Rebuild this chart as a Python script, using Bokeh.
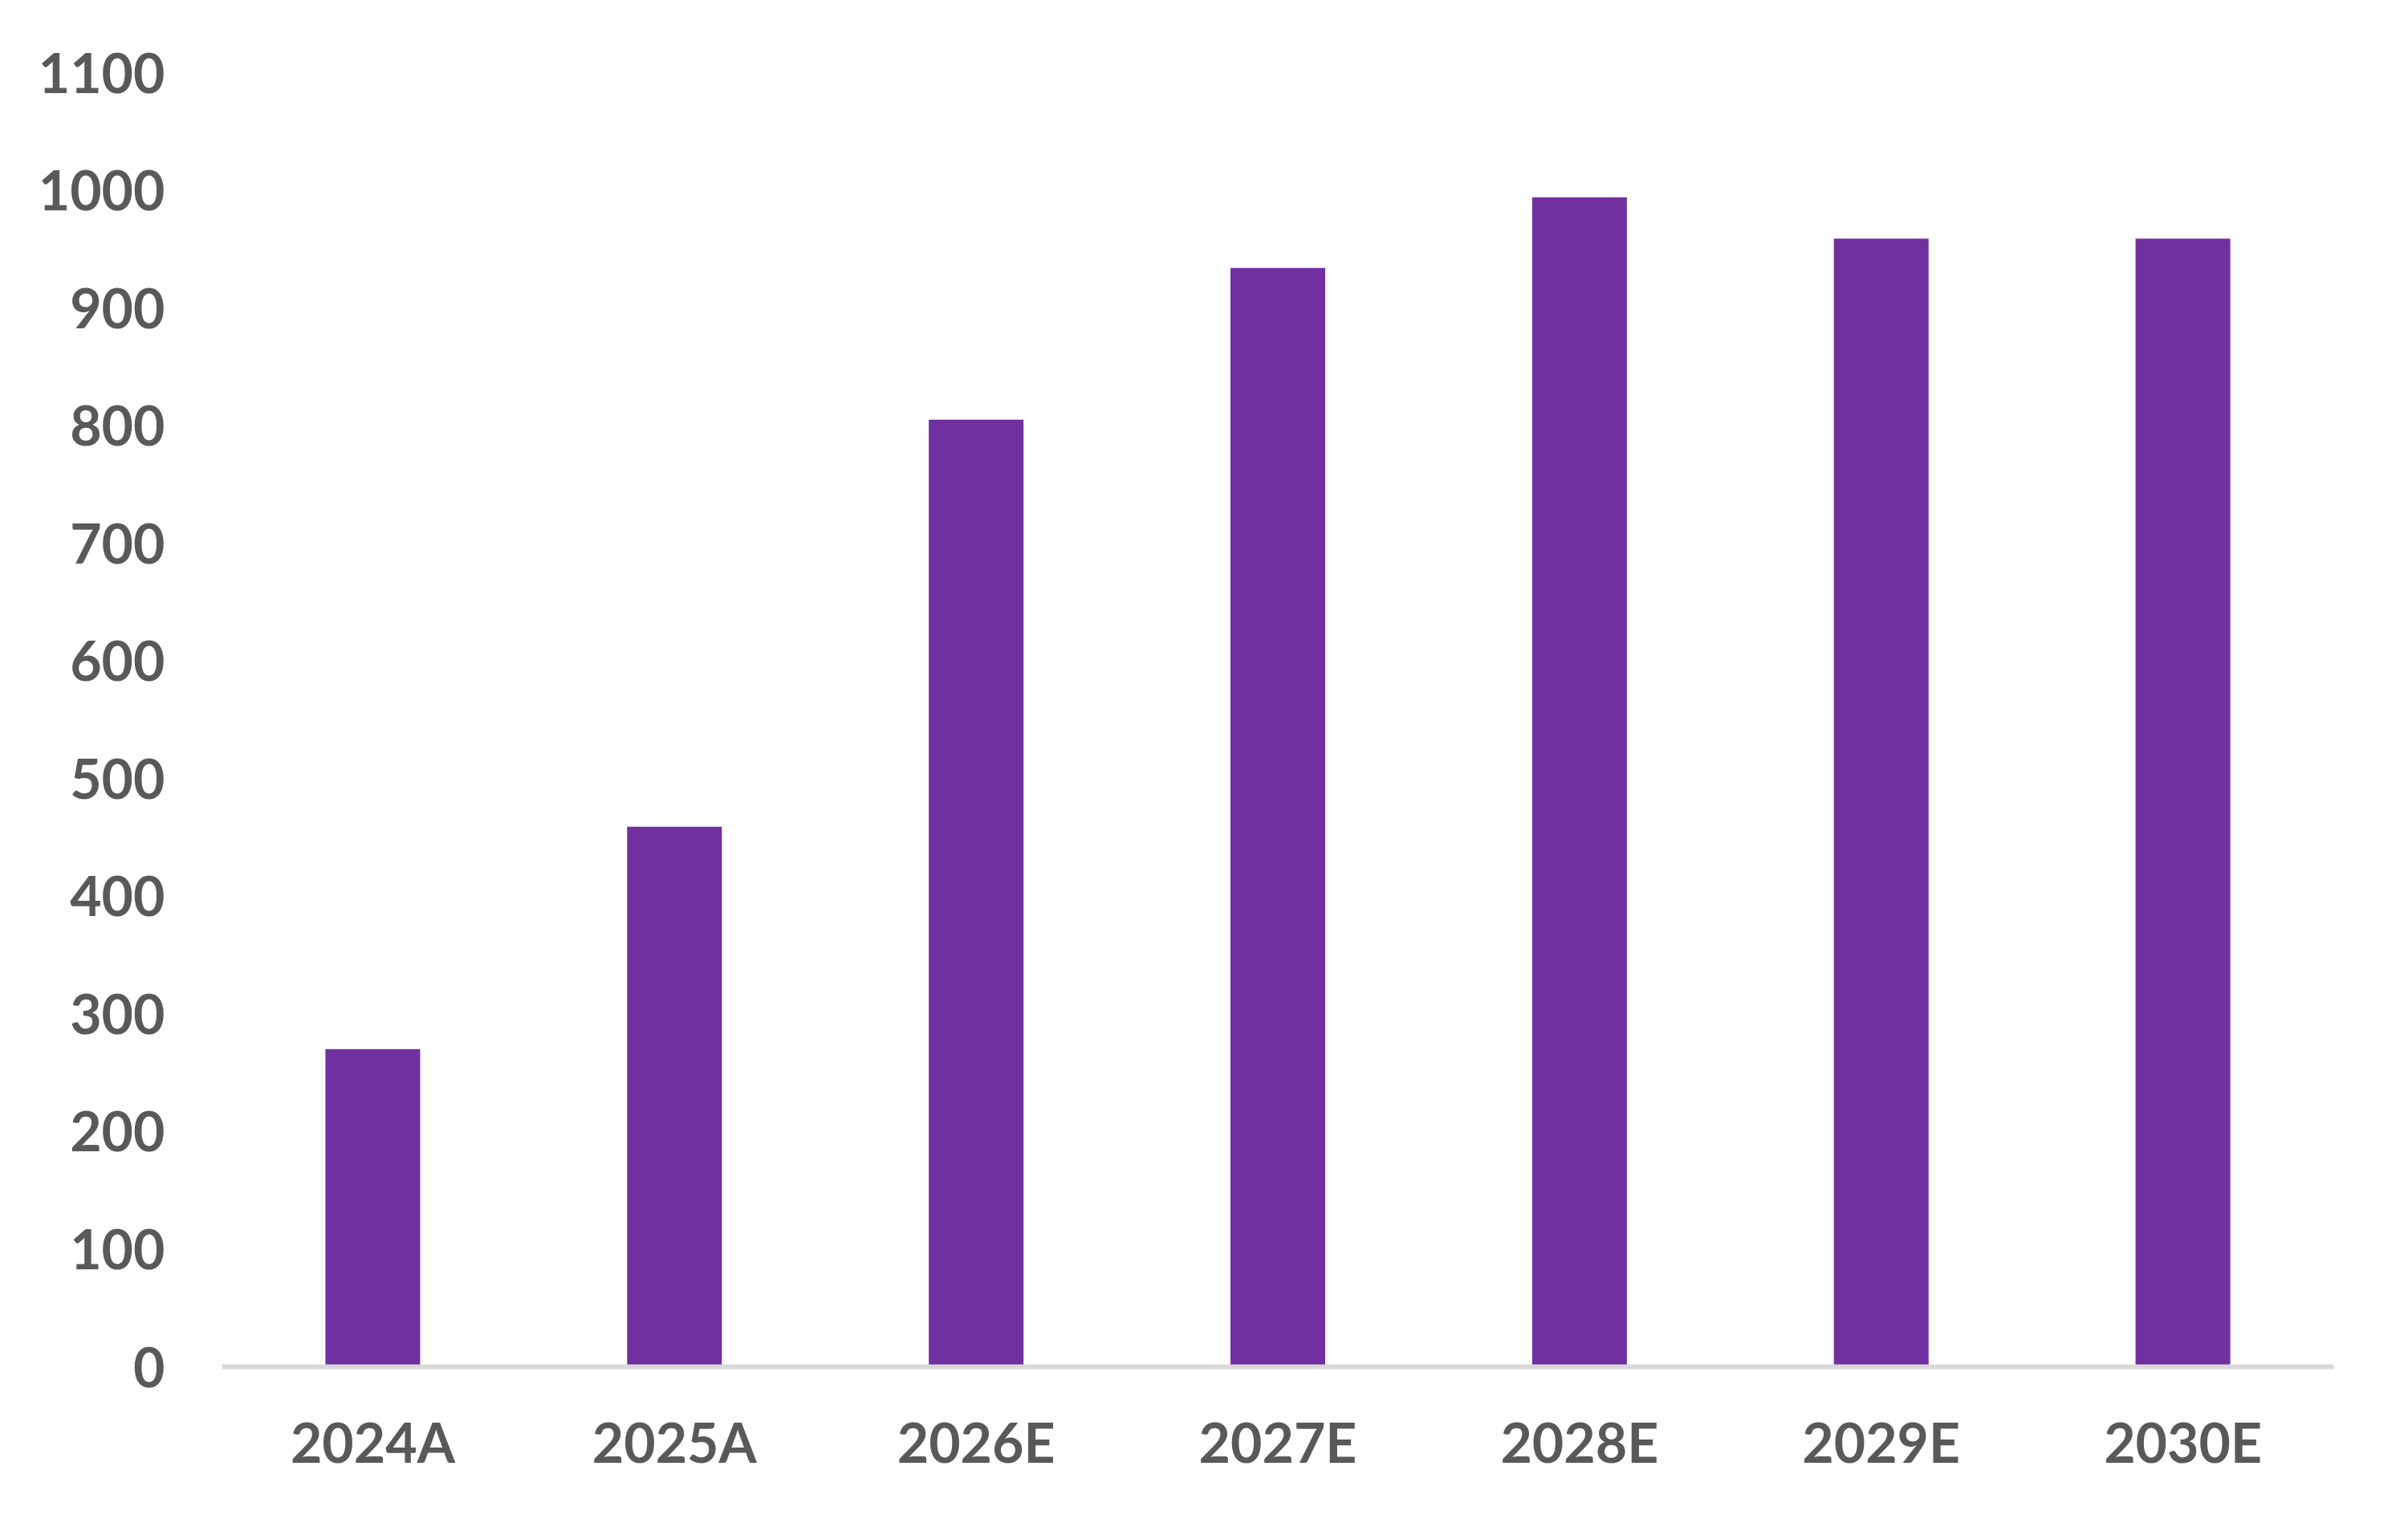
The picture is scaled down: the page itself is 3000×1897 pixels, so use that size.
from bokeh.plotting import figure
from bokeh.models import ColumnDataSource, FactorRange, Range1d, FixedTicker
from bokeh.embed import file_html
from bokeh.resources import INLINE

categories = ["2024A", "2025A", "2026E", "2027E", "2028E", "2029E", "2030E"]
values = [270, 459, 805, 934, 994, 959, 959]
y_ticks = [0, 100, 200, 300, 400, 500, 600, 700, 800, 900, 1000, 1100]

BAR_COLOR = "#7030A0"
TEXT_COLOR = "#595959"
AXIS_COLOR = "#D9D9D9"
FONT = "Lato"
FONT_SIZE = "68px"

source = ColumnDataSource(data=dict(cat=categories, val=values))

p = figure(
    x_range=FactorRange(*categories, range_padding=0),
    y_range=Range1d(0, 1100),
    frame_width=2631,
    frame_height=1612,
    min_border_left=276,
    min_border_right=77,
    min_border_top=90,
    min_border_bottom=179,
    output_backend="svg",
    toolbar_location=None,
    tools="",
)

p.vbar(x="cat", top="val", bottom=0, width=0.314, source=source,
       fill_color=BAR_COLOR, line_color=None)

p.outline_line_color = None
p.background_fill_color = "white"
p.border_fill_color = "white"
p.xgrid.grid_line_color = None
p.ygrid.grid_line_color = None

# y axis
p.yaxis.ticker = FixedTicker(ticks=y_ticks)
p.yaxis.axis_line_color = None
p.yaxis.major_tick_line_color = None
p.yaxis.minor_tick_line_color = None
p.yaxis.major_tick_out = 0
p.yaxis.major_tick_in = 0
p.yaxis.major_label_standoff = 71
p.yaxis.major_label_text_font = FONT
p.yaxis.major_label_text_font_style = "bold"
p.yaxis.major_label_text_font_size = FONT_SIZE
p.yaxis.major_label_text_color = TEXT_COLOR

# x axis
p.xaxis.axis_line_color = AXIS_COLOR
p.xaxis.axis_line_width = 6
p.xaxis.major_tick_line_color = None
p.xaxis.minor_tick_line_color = None
p.xaxis.major_tick_out = 0
p.xaxis.major_tick_in = 0
p.xaxis.major_label_standoff = 52
p.xaxis.major_label_text_font = FONT
p.xaxis.major_label_text_font_style = "bold"
p.xaxis.major_label_text_font_size = FONT_SIZE
p.xaxis.major_label_text_color = TEXT_COLOR

open("out.html", "w").write(file_html(p, INLINE))
